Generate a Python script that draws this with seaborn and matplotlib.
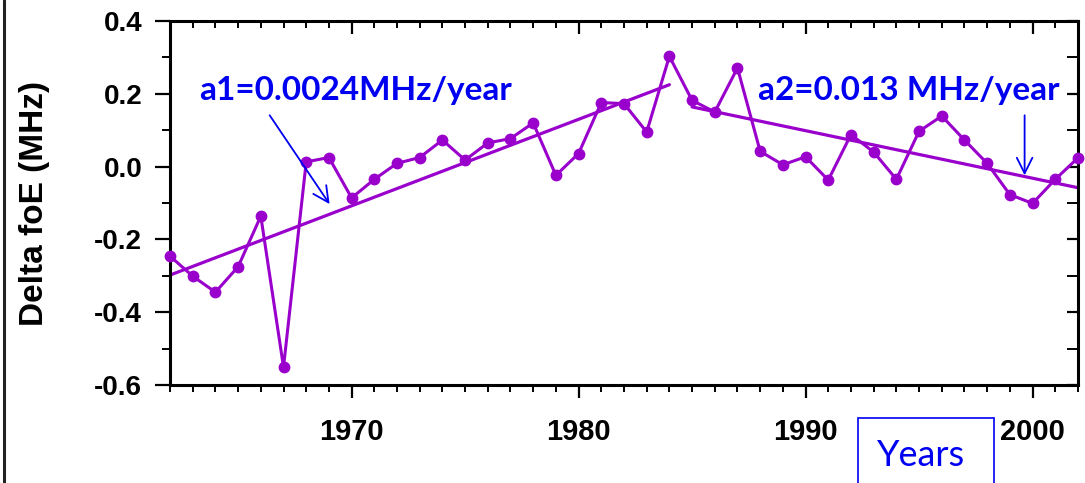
import numpy as np
import pandas as pd
import matplotlib
matplotlib.use("Agg")
import matplotlib.pyplot as plt
from matplotlib.patches import Rectangle
from matplotlib.lines import Line2D
from matplotlib.ticker import MultipleLocator, FixedLocator
import seaborn as sns

# Yearly deviations of foE (MHz)
years = list(range(1962, 2003))
delta_foe = [
    -0.246, -0.301, -0.345, -0.275, -0.136, -0.551, 0.013, 0.025, -0.086, -0.035,
    0.009, 0.025, 0.073, 0.018, 0.065, 0.077, 0.120, -0.024, 0.036, 0.176,
    0.173, 0.095, 0.303, 0.182, 0.150, 0.271, 0.042, 0.005, 0.027, -0.037,
    0.088, 0.040, -0.035, 0.097, 0.139, 0.073, 0.009, -0.077, -0.101, -0.035,
    0.024,
]

# Linear trends for the two sub-periods
trend1_years = [1962, 1984]
trend1_vals = [-0.298, 0.225]
trend2_years = [1985, 2002]
trend2_vals = [0.164, -0.058]

label_a1 = "a1=0.0024MHz/year"
label_a2 = "a2=0.013 MHz/year"
x_ticks = [1970, 1980, 1990, 2000]
y_ticks = [-0.6, -0.4, -0.2, 0.0, 0.2, 0.4]

sns.set_style("ticks")
plt.rcParams["font.family"] = ["Liberation Sans", "DejaVu Sans"]
plt.rcParams["font.weight"] = "bold"
plt.rcParams["text.color"] = "black"
plt.rcParams["axes.labelcolor"] = "black"
plt.rcParams["xtick.color"] = "black"
plt.rcParams["ytick.color"] = "black"

purple = "#9900CC"
blue = "#0000F0"

fig = plt.figure(figsize=(10.85, 4.83), dpi=100)
ax = fig.add_axes([0.1567, 0.2029, 0.9935 - 0.1567, 0.9565 - 0.2029])

df = pd.DataFrame({"year": years, "dfoe": delta_foe})
sns.lineplot(data=df, x="year", y="dfoe", ax=ax, color=purple, linewidth=2.2,
             marker="o", markersize=8.5, markeredgewidth=0, clip_on=False, zorder=3)
sns.lineplot(x=trend1_years, y=trend1_vals, ax=ax, color=purple, linewidth=2.3, zorder=2)
sns.lineplot(x=trend2_years, y=trend2_vals, ax=ax, color=purple, linewidth=2.3, zorder=2)

ax.set_xlim(1962, 2002)
ax.set_ylim(-0.6, 0.4)

for side in ["left", "right", "top", "bottom"]:
    ax.spines[side].set_visible(True)
    ax.spines[side].set_linewidth(2.2)
    ax.spines[side].set_color("black")

ax.xaxis.set_major_locator(FixedLocator(x_ticks))
ax.xaxis.set_minor_locator(MultipleLocator(1))
ax.yaxis.set_major_locator(FixedLocator(y_ticks))
ax.yaxis.set_minor_locator(MultipleLocator(0.1))
ax.set_xticklabels([str(t) for t in x_ticks])
ax.set_yticklabels([f"{t:.1f}" for t in y_ticks])

ax.tick_params(axis="x", which="major", direction="out", length=9.5, width=1.6,
               labelsize=21, pad=14, top=False, colors="black")
ax.tick_params(axis="x", which="minor", direction="out", length=5, width=1.4, top=False,
               colors="black")
ax.tick_params(axis="y", which="major", direction="out", length=11, width=1.6,
               labelsize=20, pad=9, right=False, colors="black")
ax.tick_params(axis="y", which="minor", direction="out", length=6, width=1.4, right=False,
               colors="black")
for lab in ax.get_xticklabels() + ax.get_yticklabels():
    lab.set_fontweight("bold")
    lab.set_color("black")

# Inward ticks on the top and right frame
top = ax.secondary_xaxis("top")
top.xaxis.set_major_locator(FixedLocator(x_ticks))
top.xaxis.set_minor_locator(MultipleLocator(1))
top.tick_params(which="major", direction="in", length=9.5, width=1.6, labeltop=False,
                colors="black")
top.tick_params(which="minor", direction="in", length=5, width=1.4, colors="black")
top.spines["top"].set_visible(False)
right = ax.secondary_yaxis("right")
right.yaxis.set_major_locator(FixedLocator(y_ticks))
right.yaxis.set_minor_locator(MultipleLocator(0.1))
right.tick_params(which="major", direction="in", length=8, width=1.6, labelright=False,
                  colors="black")
right.tick_params(which="minor", direction="in", length=8, width=1.4, colors="black")
right.spines["right"].set_visible(False)

ax.set_xlabel("")
ax.set_ylabel("Delta foE (MHz)", fontsize=24, fontweight="bold", color="black")
ax.yaxis.set_label_coords(-0.132, 0.5)

# Trend annotations
ann_font = ["Lato", "DejaVu Sans"]
ax.text(1963.3, 0.21, label_a1, color=blue, fontsize=24, fontweight="bold",
        family=ann_font, va="center", ha="left")
ax.text(1987.9, 0.21, label_a2, color=blue, fontsize=24, fontweight="bold",
        family=ann_font, va="center", ha="left")
arrow = dict(arrowstyle="->", color=blue, lw=1.3, mutation_scale=28, shrinkA=0, shrinkB=0)
ax.annotate("", xy=(1969.03, -0.103), xytext=(1966.39, 0.141), arrowprops=arrow)
ax.annotate("", xy=(1999.65, -0.024), xytext=(1999.65, 0.141), arrowprops=arrow)

# Boxed axis caption below the x axis
fig.patches.append(Rectangle((858 / 1085, -0.05), 136 / 1085, 0.05 + 65 / 483,
                             transform=fig.transFigure, fill=False,
                             edgecolor=blue, linewidth=1.2))
fig.text(921 / 1085, 1 - 466 / 483, "Years", color=blue, fontsize=26,
         fontweight="normal", family=["Lato", "DejaVu Sans"], ha="center", va="baseline")

# Frame line along the left edge
fig.add_artist(Line2D([0.0035, 0.0035], [0, 1], transform=fig.transFigure,
                      color="#222222", linewidth=2.2))

fig.savefig("out.png", dpi=100)
